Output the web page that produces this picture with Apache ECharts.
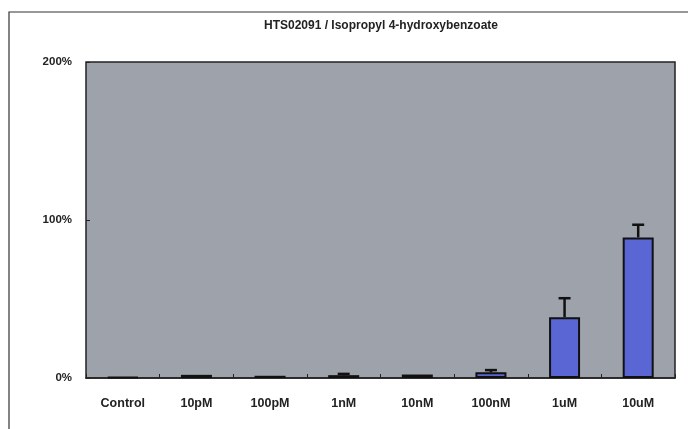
<!DOCTYPE html>
<html><head><meta charset="utf-8">
<script src="https://cdn.jsdelivr.net/npm/echarts@6/dist/echarts.min.js"></script>
<style>html,body{margin:0;padding:0;background:#fff}#c{width:688px;height:429px}</style>
</head><body><div id="c"></div>
<script>
var categories = ['Control','10pM','100pM','1nM','10nM','100nM','1uM','10uM'];
var values = [0.5, 2.0, 1.4, 1.8, 2.2, 3.6, 38.5, 89];
var errorTops = [0.5, 2.0, 1.4, 2.6, 2.2, 5.0, 50.5, 97];
var yTicks = [0, 100, 200];

var chart = echarts.init(document.getElementById('c'));
chart.setOption({
  backgroundColor: '#fff',
  animation: false,
  title: {
    text: 'HTS02091 / Isopropyl 4-hydroxybenzoate',
    left: 376, top: 15, textAlign: 'center',
    textStyle: {fontFamily: 'Liberation Sans', fontSize: 12, fontWeight: 'bold', color: '#222'}
  },
  graphic: [
    {type: 'polyline', shape: {points: [[9, 429], [9, 12], [688, 12]]}, style: {stroke: '#333', lineWidth: 1.2, fill: null}}
  ],
  grid: {left: 86, right: 13, top: 62, bottom: 51, show: true, backgroundColor: '#9ea2ab', borderColor: '#222', borderWidth: 1.5},
  xAxis: {
    type: 'category', data: categories,
    axisLine: {show: true, lineStyle: {color: '#222', width: 1.5}},
    axisTick: {show: true, inside: true, length: 4, lineStyle: {color: '#222'}},
    axisLabel: {margin: 19, fontFamily: 'Liberation Sans', fontSize: 12.5, fontWeight: 'bold', color: '#222'}
  },
  yAxis: {
    type: 'value', min: 0, max: 200, interval: 100,
    axisLine: {show: false},
    axisTick: {show: true, inside: true, length: 4, lineStyle: {color: '#222'}},
    splitLine: {show: false},
    axisLabel: {margin: 14, fontFamily: 'Liberation Sans', fontSize: 11.5, fontWeight: 'bold', color: '#222',
      formatter: function (v) { return yTicks.indexOf(v) >= 0 ? v + '%' : ''; }}
  },
  series: [
    {
      type: 'custom',
      z: 1,
      data: errorTops.map(function (e, i) { return [i, values[i], e]; }),
      renderItem: function (params, api) {
        var x = api.value(0);
        var lo = api.coord([x, api.value(1)]);
        var hi = api.coord([x, api.value(2)]);
        if (lo[1] - hi[1] < 1) return null;
        var cap = 6;
        return {type: 'group', children: [
          {type: 'line', shape: {x1: lo[0], y1: lo[1], x2: hi[0], y2: hi[1]}, style: {stroke: '#111', lineWidth: 2.5}},
          {type: 'line', shape: {x1: hi[0] - cap, y1: hi[1], x2: hi[0] + cap, y2: hi[1]}, style: {stroke: '#111', lineWidth: 2.5}}
        ]};
      }
    },
    {
      type: 'bar', data: values, barWidth: 31, z: 2,
      itemStyle: {color: '#5a66d4', borderColor: '#111', borderWidth: 2}
    }
  ]
});
</script></body></html>
